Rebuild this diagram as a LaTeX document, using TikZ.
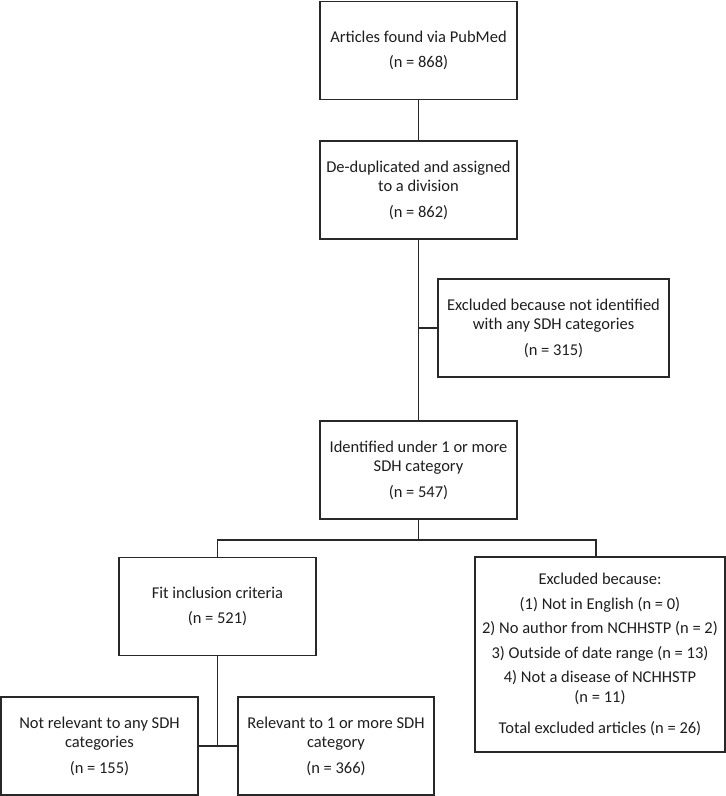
\documentclass[tikz,border=0pt]{standalone}
\usepackage{fontspec}
\setmainfont{Carlito}
\usetikzlibrary{positioning}
\definecolor{FrameGray}{RGB}{40,40,40}
\definecolor{TextGray}{RGB}{30,30,30}
\newcommand{\flowfont}{\fontsize{16.5bp}{19.5bp}\selectfont}
\tikzset{
  stagebox/.style={draw=FrameGray,line width=1.8bp,fill=white,text=TextGray,
    align=center,inner sep=0pt,minimum width=197bp,minimum height=98bp,font=\flowfont},
  link/.style={draw=FrameGray,line width=1.8bp}
}

\begin{document}
\begin{tikzpicture}[x=1bp,y=-1bp]
  \useasboundingbox (0,0) rectangle (726,796);
  \node[stagebox] (pubmed) at (418.5,50.5) {Articles found via PubMed\\[6bp](n = 868)};
  \node[stagebox,below=40bp of pubmed] (dedup) {De-duplicated and assigned\\to a division\\[6bp](n = 862)};
  \node[stagebox,minimum width=231bp] (nosdh) at (553.5,328) {Excluded because not identified\\with any SDH categories\\[6bp](n = 315)};
  \node[stagebox,below=180bp of dedup] (sdh) {Identified under 1 or more\\SDH category\\[6bp](n = 547)};
  \node[stagebox] (fit) at (217.5,606.5) {Fit inclusion criteria\\[6bp](n = 521)};
  \node[stagebox,minimum width=250bp,minimum height=195bp] (why) at (600,654.5) {Excluded because:\\[5bp](1) Not in English (n = 0)\\[5bp]2) No author from NCHHSTP (n = 2)\\[5bp]3) Outside of date range (n = 13)\\[5bp]4) Not a disease of NCHHSTP\\(n = 11)\\[12bp]Total excluded articles (n = 26)};
  \node[stagebox] (notrel) at (99.5,746) {Not relevant to any SDH\\categories\\[6bp](n = 155)};
  \node[stagebox,minimum width=196bp] (rel) at (336,746) {Relevant to 1 or more SDH\\category\\[6bp](n = 366)};
  \draw[link] (pubmed) -- (dedup);
  \draw[link] (dedup) -- (sdh);
  \draw[link] (nosdh.west) -- (nosdh.west -| dedup.south);
  \draw[link] (sdh.south) -- ++(0,20) -| (fit.north);
  \draw[link] (sdh.south) -- ++(0,20) -| ([xshift=-4bp]why.north);
  \draw[link] (fit.south) -- (fit.south |- rel.west);
  \draw[link] (notrel.east) -- (rel.west);
\end{tikzpicture}
\end{document}
